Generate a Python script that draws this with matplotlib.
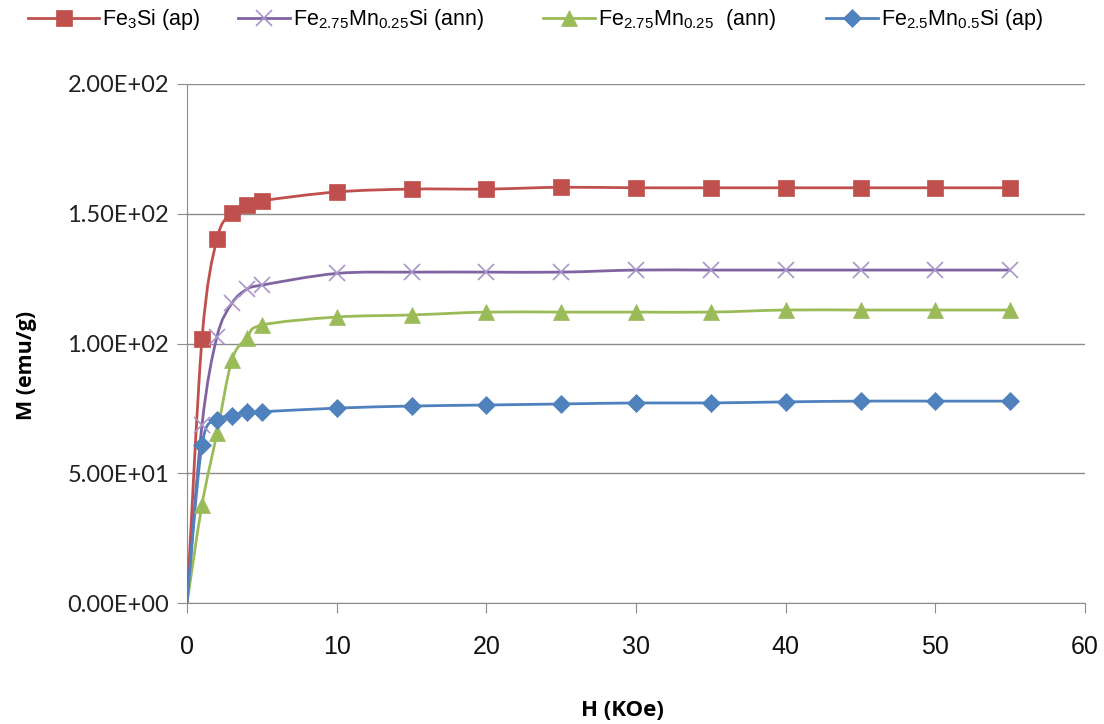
import matplotlib
matplotlib.use("Agg")
import matplotlib.pyplot as plt
import numpy as np
from matplotlib.path import Path
from matplotlib.patches import PathPatch

plt.rcParams['mathtext.fontset'] = 'custom'
plt.rcParams['mathtext.rm'] = 'Liberation Sans'
plt.rcParams['mathtext.it'] = 'Liberation Sans'

# field values (KOe)
H = [0, 1, 2, 3, 4, 5, 10, 15, 20, 25, 30, 35, 40, 45, 50, 55]

# magnetisation (emu/g)
m_fe3si = [0, 101.7, 140.3, 150.2, 153.4, 155, 158.4, 159.5, 159.5, 160.2, 160, 160, 160, 160, 160, 160]
m_mn025_si = [0, 68.6, 102.6, 115.5, 120.9, 122.5, 127, 127.5, 127.5, 127.5, 128.3, 128.3, 128.3, 128.3, 128.3, 128.3]
m_mn025 = [0, 37.8, 65.4, 93.6, 102, 107.1, 110.2, 111, 112.1, 112.1, 112.1, 112.1, 112.9, 112.9, 112.9, 112.9]
m_mn05 = [0, 60.9, 70.5, 72.2, 73.5, 73.7, 75.1, 75.9, 76.3, 76.7, 77.1, 77.1, 77.5, 77.8, 77.8, 77.8]

labels = [r'Fe$_3$Si (ap)', r'Fe$_{2.75}$Mn$_{0.25}$Si (ann)',
          r'Fe$_{2.75}$Mn$_{0.25}$  (ann)', r'Fe$_{2.5}$Mn$_{0.5}$Si (ap)']
colors = ['#C0504D', '#8064A2', '#9BBB59', '#4F81BD']
marker_colors = ['#C0504D', '#A995C9', '#9BBB59', '#4F81BD']
markers = ['s', 'x', '^', 'D']
msizes = [11, 11.5, 11.5, 9]


def smooth_path(x, y):
    # Excel-like smoothed line as a cubic bezier path through the points
    pts = np.column_stack([x, y]).astype(float)
    verts = [pts[0]]
    codes = [Path.MOVETO]
    n = len(pts)
    for i in range(n - 1):
        p0 = pts[i - 1] if i > 0 else pts[i]
        p1 = pts[i]
        p2 = pts[i + 1]
        p3 = pts[i + 2] if i + 2 < n else pts[i + 1]
        c1 = p1 + (p2 - p0) / 6.0
        c2 = p2 - (p3 - p1) / 6.0
        verts += [c1, c2, p2]
        codes += [Path.CURVE4] * 3
    return Path(verts, codes)


fig = plt.figure(figsize=(11.04, 7.24), dpi=100)
ax = fig.add_axes([0.1694, 0.1671, 0.8134, 0.7169])

series = [m_fe3si, m_mn025_si, m_mn025, m_mn05]
handles = []
for ys, lab, c, mc, mk, ms in zip(series, labels, colors, marker_colors, markers, msizes):
    ax.add_patch(PathPatch(smooth_path(H, ys), facecolor='none', edgecolor=c, lw=2.0, zorder=3))
    ax.plot(H[1:], ys[1:], linestyle='none', marker=mk, markersize=ms, color=mc,
            markeredgewidth=1.2 if mk == 'x' else 0.5, zorder=4)
    h, = ax.plot([], [], color=c, lw=2.0, marker=mk, markersize=ms, markerfacecolor=mc,
                 markeredgecolor=mc, markeredgewidth=1.2 if mk == 'x' else 0.5)
    handles.append(h)

ax.set_xlim(0, 60)
ax.set_ylim(0, 200)
ax.set_xticks(range(0, 61, 10))
ax.set_yticks([0, 50, 100, 150, 200])
ax.set_yticklabels(['0.00E+00', '5.00E+01', '1.00E+02', '1.50E+02', '2.00E+02'])
ax.yaxis.grid(True, color='#8C8C8C', lw=1.0)
ax.set_axisbelow(True)
for s in ['top', 'right']:
    ax.spines[s].set_visible(False)
for s in ['left', 'bottom']:
    ax.spines[s].set_color('#8C8C8C')
ax.tick_params(axis='both', direction='out', length=7, color='#8C8C8C')
ax.tick_params(axis='y', labelsize=17, pad=6)
ax.tick_params(axis='x', labelsize=18, pad=16)
for t in ax.get_yticklabels():
    t.set_fontfamily('Lato')
    t.set_color('#222222')
for t in ax.get_xticklabels():
    t.set_fontfamily('Liberation Sans')
    t.set_color('#111111')

ax.set_xlabel('H (KOe)', fontsize=16, fontweight='bold', fontfamily='Open Sans')
ax.set_ylabel('M (emu/g)', fontsize=15.5, fontweight='bold', fontfamily='Open Sans')
ax.xaxis.set_label_coords(0.4844, -0.187)
ax.yaxis.set_label_coords(-0.167, 0.4586)

# legend entries placed across the top
leg_x = [28, 238, 543, 826]
leg_len = [3.3, 2.4, 2.4, 2.4]
for h, lab, lx, hl in zip(handles, labels, leg_x, leg_len):
    lg = fig.legend([h], [lab], loc='center left', bbox_to_anchor=(lx / 1104, 1 - 20 / 724),
                    frameon=False, prop={'family': 'Liberation Sans', 'size': 15.5},
                    handlelength=hl, handletextpad=0.15, borderpad=0, borderaxespad=0)

fig.savefig('out.png', dpi=100, facecolor='white')
